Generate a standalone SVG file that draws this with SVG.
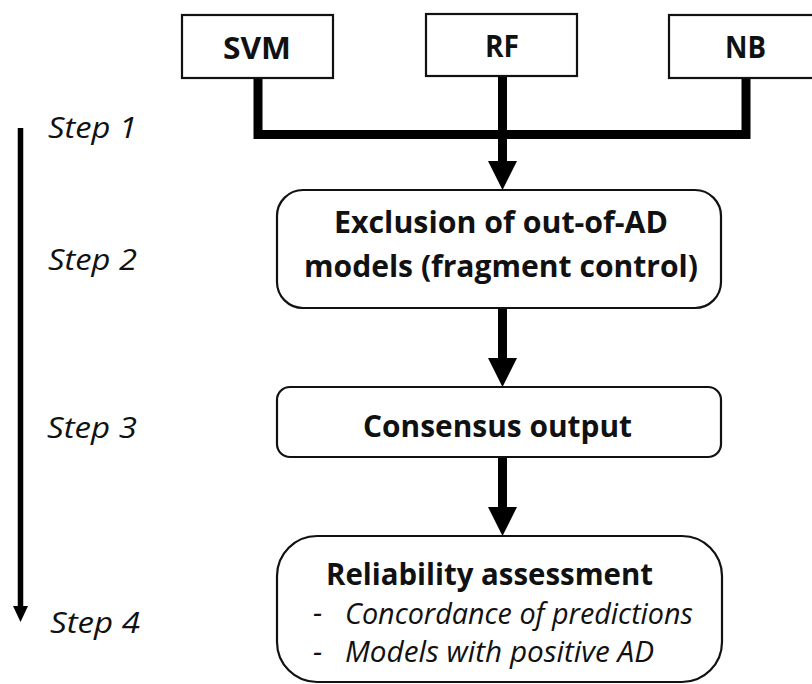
<svg xmlns="http://www.w3.org/2000/svg" width="812" height="684" viewBox="0 0 812 684">
<style>
.box{fill:#fff;stroke:#111;stroke-width:2.2}
.lbl{font-family:"Open Sans","Liberation Sans",sans-serif;font-weight:bold;font-size:30.5px;fill:#111;text-anchor:start}
.it{font-family:"Open Sans","Liberation Sans",sans-serif;font-style:italic;font-size:29.5px;fill:#111}
.conn{fill:none;stroke:#000;stroke-width:9;stroke-linejoin:miter;stroke-linecap:butt}
.head{fill:#000}
</style>
<rect width="812" height="684" fill="#fff"/>
<g id="connectors">
<path class="conn" d="M258,78 V134.5 H746 V78"/>
<path class="conn" d="M502.5,76 V163"/>
<polygon class="head" points="488,161 517,161 502.5,190"/>
<path class="conn" d="M502.5,308 V360"/>
<polygon class="head" points="488,358 517,358 502.5,387"/>
<path class="conn" d="M502.5,457 V509"/>
<polygon class="head" points="488,507 517,507 502.5,536"/>
</g>
<g id="step-axis">
<path d="M20.5,128 V608" stroke="#000" stroke-width="5.5" fill="none"/>
<polygon class="head" points="13,606 28,606 20.5,622"/>
<text class="it" x="48" y="138" textLength="89" lengthAdjust="spacingAndGlyphs">Step 1</text>
<text class="it" x="48" y="270" textLength="89" lengthAdjust="spacingAndGlyphs">Step 2</text>
<text class="it" x="47" y="438" textLength="90" lengthAdjust="spacingAndGlyphs">Step 3</text>
<text class="it" x="50" y="633" textLength="90" lengthAdjust="spacingAndGlyphs">Step 4</text>
</g>
<g id="svm">
<rect class="box" x="182" y="15" width="151" height="63"/>
<text class="lbl" x="223" y="59" textLength="68" lengthAdjust="spacingAndGlyphs">SVM</text>
</g>
<g id="rf">
<rect class="box" x="426" y="14" width="151" height="62"/>
<text class="lbl" x="485" y="57" textLength="34" lengthAdjust="spacingAndGlyphs">RF</text>
</g>
<g id="nb">
<rect class="box" x="669" y="15" width="152" height="63"/>
<text class="lbl" x="725" y="58" textLength="41" lengthAdjust="spacingAndGlyphs">NB</text>
</g>
<g id="exclusion">
<rect class="box" x="277" y="190" width="444" height="118" rx="26" ry="26"/>
<text class="lbl" x="334" y="233" textLength="334" lengthAdjust="spacingAndGlyphs">Exclusion of out-of-AD</text>
<text class="lbl" x="304" y="277" textLength="394" lengthAdjust="spacingAndGlyphs">models (fragment control)</text>
</g>
<g id="consensus">
<rect class="box" x="277" y="387" width="444" height="70" rx="13" ry="13"/>
<text class="lbl" x="363" y="437" textLength="269" lengthAdjust="spacingAndGlyphs">Consensus output</text>
</g>
<g id="reliability">
<rect class="box" x="277" y="536" width="445" height="146" rx="40" ry="40"/>
<text class="lbl" x="326" y="585" textLength="327" lengthAdjust="spacingAndGlyphs">Reliability assessment</text>
<text class="it" x="313" y="623" font-style="normal">-</text>
<text class="it" x="345" y="624" textLength="348" lengthAdjust="spacingAndGlyphs">Concordance of predictions</text>
<text class="it" x="313" y="662" font-style="normal">-</text>
<text class="it" x="345" y="662" textLength="309" lengthAdjust="spacingAndGlyphs">Models with positive AD</text>
</g>
</svg>
